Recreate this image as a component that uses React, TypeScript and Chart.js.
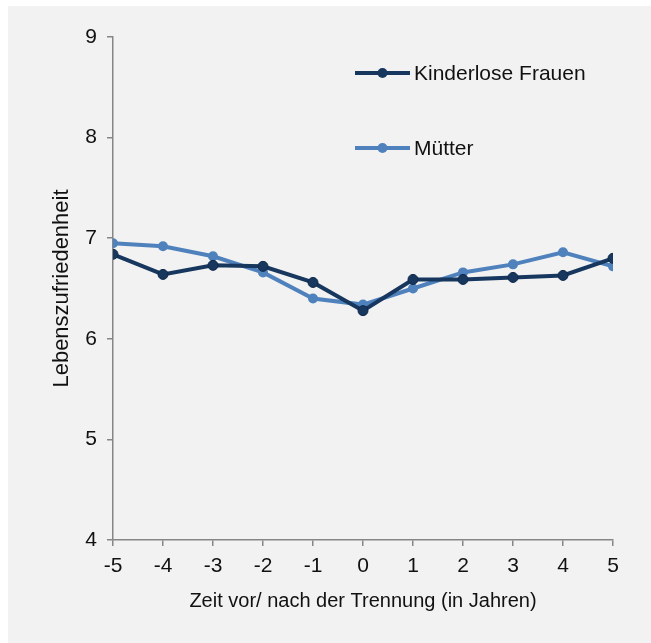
import React, { useEffect, useRef } from "react";
import { Chart, registerables } from "chart.js";

Chart.register(...registerables);

const years = [-5, -4, -3, -2, -1, 0, 1, 2, 3, 4, 5];
const kinderlose = [6.84, 6.64, 6.73, 6.72, 6.56, 6.28, 6.59, 6.59, 6.61, 6.63, 6.80];
const muetter = [6.95, 6.92, 6.82, 6.66, 6.40, 6.34, 6.50, 6.66, 6.74, 6.86, 6.72];
const seriesNames = ["Kinderlose Frauen", "Mütter"];
const seriesColors = ["#17375e", "#4f81bd"];
const xTitle = "Zeit vor/ nach der Trennung (in Jahren)";
const yTitle = "Lebenszufriedenheit";

const FONT = "'Liberation Sans', Arial, sans-serif";
const AXIS = "#868686";

const legendPlugin = {
  id: "customLegend",
  afterDraw(chart: any) {
    const ctx = chart.ctx;
    const rows = [67, 142];
    ctx.save();
    seriesNames.forEach((name, i) => {
      const y = rows[i];
      ctx.strokeStyle = seriesColors[i];
      ctx.lineWidth = 4;
      ctx.beginPath();
      ctx.moveTo(347, y);
      ctx.lineTo(402, y);
      ctx.stroke();
      ctx.fillStyle = seriesColors[i];
      ctx.beginPath();
      ctx.arc(374.5, y, 5, 0, Math.PI * 2);
      ctx.fill();
      ctx.fillStyle = "#111";
      ctx.font = `21px ${FONT}`;
      ctx.textBaseline = "middle";
      ctx.textAlign = "left";
      ctx.fillText(name, 406, y + 1);
    });
    ctx.restore();
  },
};

export default function App() {
  const ref = useRef<HTMLCanvasElement>(null);
  useEffect(() => {
    if (!ref.current) return;
    const chart = new Chart(ref.current, {
      type: "line",
      data: {
        datasets: [
          {
            label: seriesNames[0],
            data: years.map((x, i) => ({ x, y: kinderlose[i] })),
            borderColor: seriesColors[0],
            backgroundColor: seriesColors[0],
            borderWidth: 4,
            pointRadius: 5,
            pointBorderWidth: 1,
            pointBorderColor: "#10284a",
            pointBackgroundColor: seriesColors[0],
          },
          {
            label: seriesNames[1],
            data: years.map((x, i) => ({ x, y: muetter[i] })),
            borderColor: seriesColors[1],
            backgroundColor: seriesColors[1],
            borderWidth: 4,
            pointRadius: 5,
            pointBorderWidth: 0,
            pointBackgroundColor: seriesColors[1],
          },
        ],
      },
      options: {
        animation: false,
        responsive: false,
        devicePixelRatio: 1,
        layout: { padding: { top: 31, right: 38, left: 0, bottom: 0 } },
        plugins: { legend: { display: false }, tooltip: { enabled: false } },
        scales: {
          x: {
            type: "linear",
            min: -5,
            max: 5,
            afterFit: (s: any) => {
              s.height = 103;
            },
            ticks: {
              stepSize: 1,
              color: "#111",
              padding: 8,
              font: { family: FONT, size: 21 },
            },
            grid: {
              display: true,
              drawOnChartArea: false,
              drawTicks: true,
              tickLength: 6,
              color: AXIS,
              lineWidth: 1.5,
            },
            border: { display: true, color: AXIS, width: 1.5 },
            title: {
              display: true,
              text: xTitle,
              color: "#111",
              font: { family: FONT, size: 20 },
              padding: { top: 0, bottom: 30 },
            },
          },
          y: {
            min: 4,
            max: 9,
            afterFit: (s: any) => {
              s.width = 105;
            },
            ticks: {
              stepSize: 1,
              color: "#111",
              padding: 10,
              font: { family: FONT, size: 21 },
            },
            grid: {
              display: true,
              drawOnChartArea: false,
              drawTicks: true,
              tickLength: 6,
              color: AXIS,
              lineWidth: 1.5,
            },
            border: { display: true, color: AXIS, width: 1.5 },
            title: {
              display: true,
              text: yTitle,
              color: "#111",
              font: { family: FONT, size: 22 },
              padding: { top: 41, bottom: 0 },
            },
          },
        },
      },
      plugins: [legendPlugin],
    } as any);
    return () => chart.destroy();
  }, []);
  return (
    <div
      style={{
        position: "fixed",
        left: 8,
        top: 6,
        right: 0,
        bottom: 0,
        background: "#f2f2f2",
        overflow: "hidden",
      }}
    >
      <canvas
        ref={ref}
        width={643}
        height={637}
        style={{ display: "block", width: 643, height: 637 }}
      />
    </div>
  );
}
